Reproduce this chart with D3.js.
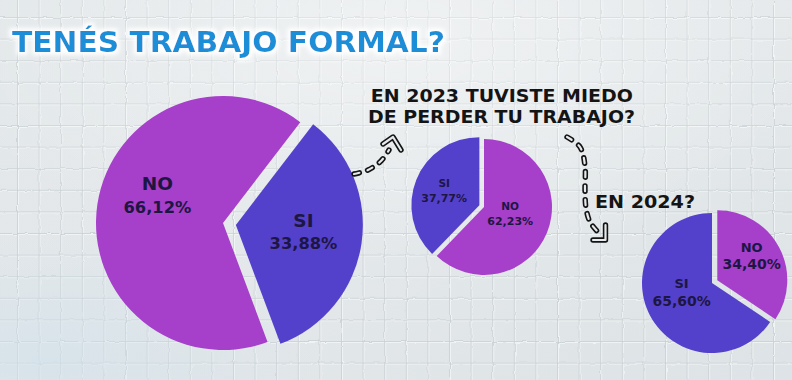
<!DOCTYPE html>
<html><head><meta charset="utf-8">
<script src="https://cdn.jsdelivr.net/npm/d3@7"></script>
<style>html,body{margin:0;padding:0;background:#dfe4e6;} svg{display:block}</style>
</head><body><svg id="c" width="792" height="380"></svg>
<script>
// ---------- data ----------
const categories = ["SI", "NO"];
const formalValues = [33.88, 66.12];      // TENÉS TRABAJO FORMAL?
const miedo2023Values = [37.77, 62.23];   // EN 2023 TUVISTE MIEDO DE PERDER TU TRABAJO?
const miedo2024Values = [65.60, 34.40];   // EN 2024?
const titleText = "TENÉS TRABAJO FORMAL?";
const question2023 = ["EN 2023 TUVISTE MIEDO", "DE PERDER TU TRABAJO?"];
const question2024 = "EN 2024?";

// ---------- styles / layout ----------
const colors = { SI: "#5441cb", NO: "#a63fc9" };
const labelColor = "#1d1642";
const W = 792, H = 380;
const deg = Math.PI / 180;
const locale = d3.formatLocale({ decimal: ",", thousands: ".", grouping: [3], currency: ["$", ""] });
const fmt = v => locale.format(".2f")(v) + "%";

const svg = d3.select("#c");
const defs = svg.append("defs");

// background
const bg = defs.append("linearGradient").attr("id", "bg").attr("x1", 0).attr("y1", 0).attr("x2", 1).attr("y2", 1);
bg.append("stop").attr("offset", 0).attr("stop-color", "#e2e7e9");
bg.append("stop").attr("offset", 0.5).attr("stop-color", "#e4e8ea");
bg.append("stop").attr("offset", 1).attr("stop-color", "#dde3e6");
const hl = defs.append("radialGradient").attr("id", "hl").attr("cx", 0.5).attr("cy", 0.1).attr("r", 0.6);
hl.append("stop").attr("offset", 0).attr("stop-color", "#ffffff").attr("stop-opacity", 0.45);
hl.append("stop").attr("offset", 1).attr("stop-color", "#ffffff").attr("stop-opacity", 0);
const bl = defs.append("radialGradient").attr("id", "bl").attr("cx", 0.05).attr("cy", 0.95).attr("r", 0.35);
bl.append("stop").attr("offset", 0).attr("stop-color", "#cfe0ea").attr("stop-opacity", 0.6);
bl.append("stop").attr("offset", 1).attr("stop-color", "#cfe0ea").attr("stop-opacity", 0);

const tile = 21.6;
const pat = defs.append("pattern").attr("id", "grid").attr("patternUnits", "userSpaceOnUse")
  .attr("width", tile).attr("height", tile).attr("x", 17).attr("y", 17);
pat.append("path").attr("d", `M0,0H${tile}M0,0V${tile}`).attr("stroke", "#c8cfd2").attr("stroke-width", 1.5).attr("fill", "none");
pat.append("path").attr("d", `M1.5,1.5H${tile}M1.5,1.5V${tile}`).attr("stroke", "#f3f5f6").attr("stroke-width", 0.8).attr("fill", "none");

const wav = defs.append("filter").attr("id", "wavy").attr("x", 0).attr("y", 0).attr("width", 1).attr("height", 1);
wav.append("feTurbulence").attr("type", "fractalNoise").attr("baseFrequency", 0.09).attr("numOctaves", 2).attr("seed", 3).attr("result", "n");
wav.append("feDisplacementMap").attr("in", "SourceGraphic").attr("in2", "n").attr("scale", 3);

const glow = defs.append("filter").attr("id", "glow").attr("x", -0.1).attr("y", -0.5).attr("width", 1.2).attr("height", 2);
glow.append("feMorphology").attr("in", "SourceAlpha").attr("operator", "dilate").attr("radius", 2.5).attr("result", "d");
glow.append("feGaussianBlur").attr("in", "d").attr("stdDeviation", 2.2).attr("result", "b");
glow.append("feFlood").attr("flood-color", "#ffffff").attr("flood-opacity", 0.95);
glow.append("feComposite").attr("in2", "b").attr("operator", "in").attr("result", "g");
const gm = glow.append("feMerge");
gm.append("feMergeNode").attr("in", "g");
gm.append("feMergeNode").attr("in", "SourceGraphic");

svg.append("rect").attr("width", W).attr("height", H).attr("fill", "url(#bg)");
svg.append("rect").attr("width", W).attr("height", H).attr("fill", "url(#grid)").attr("filter", "url(#wavy)");
svg.append("rect").attr("width", W).attr("height", H).attr("fill", "url(#hl)");
svg.append("rect").attr("width", W).attr("height", H).attr("fill", "url(#bl)");

// title
svg.append("text").text(titleText)
  .attr("x", 12).attr("y", 51.7)
  .attr("font-family", "DejaVu Sans").attr("font-weight", "bold").attr("font-size", 29)
  .attr("textLength", 433).attr("lengthAdjust", "spacingAndGlyphs")
  .attr("fill", "#1b8ed8").attr("filter", "url(#glow)");

// questions
const qFont = { "font-family": "DejaVu Sans", "font-weight": "bold", fill: "#141414" };
[[question2023[0], 501.8, 101.7, 262], [question2023[1], 501.5, 123.3, 267]].forEach(([t, x, y, len]) => {
  const el = svg.append("text").text(t).attr("x", x).attr("y", y).attr("text-anchor", "middle")
    .attr("font-size", 18).attr("textLength", len).attr("lengthAdjust", "spacingAndGlyphs");
  Object.entries(qFont).forEach(([k, v]) => el.attr(k, v));
});
{
  const el = svg.append("text").text(question2024).attr("x", 595).attr("y", 208.3)
    .attr("font-size", 17.5).attr("textLength", 100).attr("lengthAdjust", "spacingAndGlyphs");
  Object.entries(qFont).forEach(([k, v]) => el.attr(k, v));
}

// pies
const pies = [
  { values: formalValues, order: ["SI", "NO"], cx: 223, cy: 223, r: 127, start: 37.5, explode: { SI: 13, NO: 0 },
    label: { SI: { d: 68, shift: -2.5 }, NO: { d: 71, shift: 14 } }, nameSize: 18.5, pctSize: 16.3, nameDy: -5.5, pctDy: 17 },
  { values: miedo2023Values, order: ["NO", "SI"], cx: 484, cy: 207, r: 68, start: 0, explode: { SI: 5, NO: 0 },
    label: { SI: { d: 38, shift: 0 }, NO: { d: 27, shift: -8 } }, nameSize: 10.5, pctSize: 11, nameDy: -3.5, pctDy: 11 },
  { values: miedo2024Values, order: ["NO", "SI"], cx: 712, cy: 283, r: 70, start: 0, explode: { SI: 0, NO: 6 },
    label: { SI: { d: 32, shift: 10 }, NO: { d: 42, shift: -7 } }, nameSize: 13, pctSize: 14, nameDy: -4.5, pctDy: 13 }
];

pies.forEach(p => {
  const data = p.order.map(name => ({ name, value: p.values[categories.indexOf(name)] }));
  const layout = d3.pie().sort(null).value(d => d.value).startAngle(p.start * deg).endAngle(p.start * deg + 2 * Math.PI);
  const arc = d3.arc().innerRadius(0).outerRadius(p.r);
  const g = svg.append("g").attr("transform", `translate(${p.cx},${p.cy})`);
  const slices = g.selectAll("g.s").data(layout(data)).join("g")
    .attr("transform", d => {
      const m = (d.startAngle + d.endAngle) / 2, o = p.explode[d.data.name];
      return `translate(${o * Math.sin(m)},${-o * Math.cos(m)})`;
    });
  slices.append("path").attr("d", arc).attr("fill", d => colors[d.data.name]);
  slices.each(function (d) {
    const L = p.label[d.data.name];
    const a = (d.startAngle + d.endAngle) / 2 + L.shift * deg;
    const x = L.d * Math.sin(a), y = -L.d * Math.cos(a);
    const s = d3.select(this);
    s.append("text").text(d.data.name).attr("x", x).attr("y", y + p.nameDy)
      .attr("text-anchor", "middle").attr("font-family", "DejaVu Sans").attr("font-weight", "bold")
      .attr("font-size", p.nameSize).attr("fill", labelColor);
    s.append("text").text(fmt(d.data.value)).attr("x", x).attr("y", y + p.pctDy)
      .attr("text-anchor", "middle").attr("font-family", "DejaVu Sans").attr("font-weight", "bold")
      .attr("font-size", p.pctSize).attr("fill", labelColor);
  });
});

// decorative dashed arrows
const curve = d3.line().curve(d3.curveCatmullRom);
function hollow(pathD, dashed) {
  const g = svg.append("g").attr("fill", "none").attr("stroke-linecap", "round").attr("stroke-linejoin", "round");
  g.append("path").attr("d", pathD).attr("stroke", "#141414").attr("stroke-width", 5.4)
    .attr("stroke-dasharray", dashed ? "5.5 8.5" : null);
  g.append("path").attr("d", pathD).attr("stroke", "#e6eaec").attr("stroke-width", 2.2)
    .attr("stroke-dasharray", dashed ? "5.5 8.5" : null);
}
hollow(curve([[354, 174], [368, 170], [381, 161], [389, 150]]), true);
hollow(d3.line()([[383, 144], [393, 137], [401, 150]]), false);
hollow(curve([[567, 137], [580, 147], [585, 166], [585, 190], [586, 208], [590, 222], [597, 231]]), true);
hollow(d3.line()([[605.5, 225], [605.5, 240], [593, 240]]), false);
</script></body></html>
